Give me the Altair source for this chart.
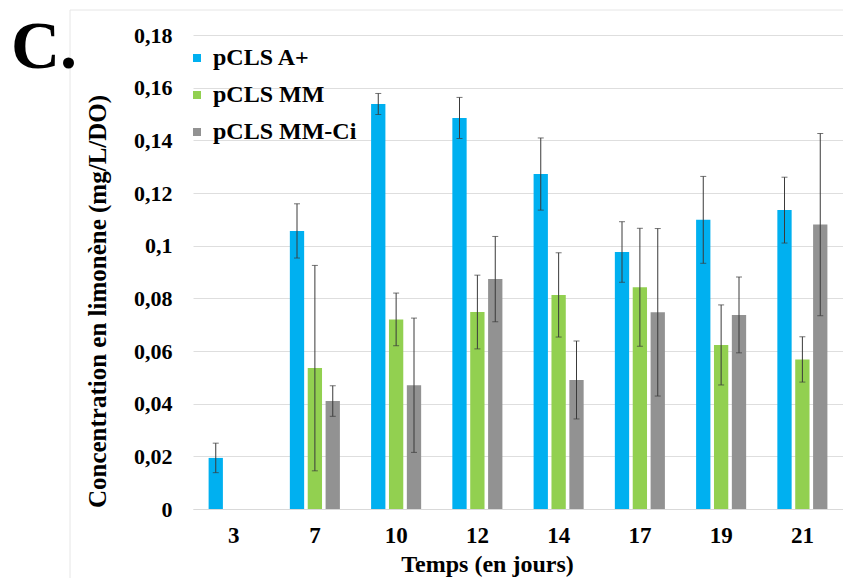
import altair as alt
import pandas as pd

days = ["3", "7", "10", "12", "14", "17", "19", "21"]
series = ["pCLS A+", "pCLS MM", "pCLS MM-Ci"]
colors = ["#00B0F0", "#92D050", "#929292"]

a_vals = [0.0194, 0.1056, 0.1538, 0.1485, 0.1272, 0.0976, 0.1098, 0.1135]
a_err = [0.0056, 0.0103, 0.0040, 0.0078, 0.0137, 0.0115, 0.0165, 0.0125]
mm_vals = [None, 0.0535, 0.0720, 0.0748, 0.0813, 0.0842, 0.0623, 0.0568]
mm_err = [None, 0.0390, 0.0100, 0.0140, 0.0160, 0.0224, 0.0152, 0.0086]
ci_vals = [None, 0.0410, 0.0470, 0.0873, 0.0490, 0.0747, 0.0737, 0.1080]
ci_err = [None, 0.0058, 0.0255, 0.0162, 0.0148, 0.0318, 0.0144, 0.0346]

y_ticks = [0, 0.02, 0.04, 0.06, 0.08, 0.10, 0.12, 0.14, 0.16, 0.18]

rows = []
for s, vals, errs in zip(series, [a_vals, mm_vals, ci_vals], [a_err, mm_err, ci_err]):
    for d, v, e in zip(days, vals, errs):
        if v is None:
            continue
        rows.append({"day": d, "series": s, "value": v, "lo": v - e, "hi": v + e})
df = pd.DataFrame(rows)

FONT = "Liberation Serif"

x_axis = alt.Axis(
    title="Temps (en jours)", titleFont=FONT, titleFontSize=24, titleFontWeight="bold",
    titleColor="black", titleX=294, titleY=55, titleAnchor="middle",
    titleAlign="center", titleBaseline="middle",
    labelFont=FONT, labelFontSize=23, labelFontWeight="bold", labelColor="black",
    labelAngle=0, labelPadding=15, ticks=False, domainColor="#d9d9d9", grid=False,
)
y_axis = alt.Axis(
    title="Concentration en limonène (mg/L/DO)", titleFont=FONT, titleFontSize=25,
    titleFontWeight="bold", titleColor="black", titleX=-96, titleY=266,
    titleAngle=-90, titleAlign="center", titleBaseline="middle",
    labelFont=FONT, labelFontSize=22, labelFontWeight="bold", labelColor="black",
    labelPadding=21, ticks=False, domain=False, values=y_ticks,
    labelExpr="replace(format(datum.value, '.2~f'), '.', ',')",
    gridColor="#dedede", gridWidth=1,
)

x_enc = alt.X("day:N", sort=days, axis=x_axis,
              scale=alt.Scale(paddingInner=0.34, paddingOuter=0.17))
xo_enc = alt.XOffset("series:N", sort=series,
                     scale=alt.Scale(domain=series, paddingInner=0.2, paddingOuter=0.1))
y_scale = alt.Scale(domain=[0, 0.18], nice=False, zero=True)

base = alt.Chart(df)

bars = base.mark_bar().encode(
    x=x_enc,
    xOffset=xo_enc,
    y=alt.Y("value:Q", scale=y_scale, axis=y_axis),
    color=alt.Color(
        "series:N", sort=series,
        scale=alt.Scale(domain=series, range=colors),
        legend=alt.Legend(
            title=None, orient="none", legendX=-8, legendY=11, padding=0,
            symbolType="square", symbolSize=64, symbolStrokeWidth=0,
            symbolOpacity=1, labelFont=FONT, labelFontSize=24,
            labelFontWeight="bold", labelColor="black", rowPadding=13,
            labelOffset=4, labelLimit=300,
        ),
    ),
)

err_color = "#3a3a3a"
rules = base.mark_rule(color=err_color, strokeWidth=1).encode(
    x=x_enc, xOffset=xo_enc,
    y=alt.Y("lo:Q", scale=y_scale, axis=y_axis), y2="hi:Q",
)
cap_lo = base.mark_tick(color=err_color, size=6, thickness=1).encode(
    x=x_enc, xOffset=xo_enc, y=alt.Y("lo:Q", scale=y_scale, axis=y_axis),
)
cap_hi = base.mark_tick(color=err_color, size=6, thickness=1).encode(
    x=x_enc, xOffset=xo_enc, y=alt.Y("hi:Q", scale=y_scale, axis=y_axis),
)

one = pd.DataFrame({"t": ["C."]})
letter = alt.Chart(one).mark_text(
    font=FONT, fontSize=68, fontWeight="bold", align="left",
    baseline="alphabetic", color="black"
).encode(text="t:N", x=alt.value(-182), y=alt.value(33))

ruler_v = alt.Chart(one).mark_rule(color="#e6e6e6", strokeWidth=1).encode(
    x=alt.value(-123), y=alt.value(-25), y2=alt.value(560)
)
ruler_h = alt.Chart(one).mark_rule(color="#e6e6e6", strokeWidth=1).encode(
    x=alt.value(-123), x2=alt.value(650), y=alt.value(-25)
)

chart = alt.layer(ruler_v, ruler_h, bars, rules, cap_lo, cap_hi, letter).properties(
    width=650, height=474,
    autosize=alt.AutoSizeParams(type="none"),
    padding={"left": 185, "top": 27, "right": 0, "bottom": 69},
).configure_view(stroke=None)

chart.save("out.html", embed_options={"renderer": "svg", "actions": False})
